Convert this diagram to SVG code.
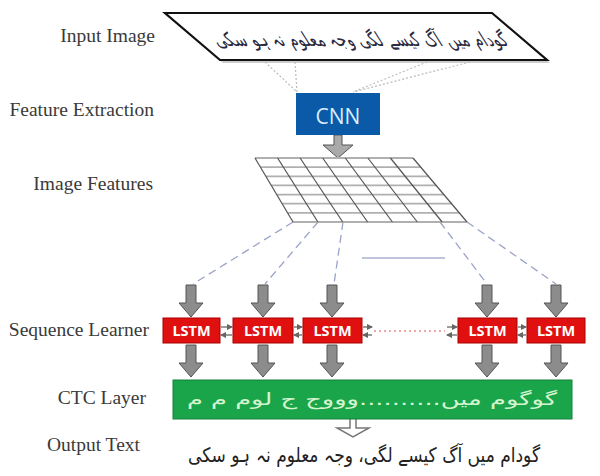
<svg xmlns="http://www.w3.org/2000/svg" xmlns:xlink="http://www.w3.org/1999/xlink" width="600" height="476" viewBox="0 0 600 476">
<style>
.lbl{font-family:"Liberation Serif","Times New Roman",serif;font-size:19.5px;fill:#3a3a3a;text-anchor:end}
.lstm rect{fill:#e01010;stroke:#a00;stroke-width:1}
.lstm text{font-family:"Open Sans","DejaVu Sans",sans-serif;font-weight:bold;font-size:14.5px;fill:#fff;text-anchor:middle}
.blk{fill:#8c8c8c;stroke:#555;stroke-width:1}
.dot{stroke:#bbb;stroke-width:1.2;stroke-dasharray:2 2;fill:none}
.dash{stroke:#9aa3c8;stroke-width:1.3;stroke-dasharray:8 5;fill:none}
.hl{stroke:#b0b0b0;stroke-width:1.8}
.vl{stroke:#555;stroke-width:1.2}
.sa{stroke:#666;stroke-width:1.3;fill:none}
.urdu{font-family:"DejaVu Sans","Noto Sans",sans-serif;direction:rtl}
</style>
<defs>
<path id="da" d="M-5,0 h10 v18 h7 l-12,14 l-12,-14 h7 z"/>
<marker id="ah" viewBox="0 0 6 6" refX="5" refY="3" markerWidth="5" markerHeight="5" orient="auto"><path d="M0,0 L6,3 L0,6 z" fill="#666"/></marker>
</defs>
<rect width="600" height="476" fill="#fff"/>

<g id="labels">
<text class="lbl" x="155" y="42">Input Image</text>
<text class="lbl" x="154" y="116">Feature Extraction</text>
<text class="lbl" x="153" y="190">Image Features</text>
<text class="lbl" x="149" y="336">Sequence Learner</text>
<text class="lbl" x="146" y="404">CTC Layer</text>
<text class="lbl" x="140" y="451">Output Text</text>
</g>

<g id="input-image">
<polygon points="168,16 495,16 550,63 223,63" fill="#ccc"/>
<polygon points="165,13 492,13 547,60 220,60" fill="#fff" stroke="#111" stroke-width="2.2"/>
<text class="urdu" transform="translate(364,46) skewX(32) scale(1,1.35)" font-size="14.5" fill="#2a2a40" text-anchor="middle">گودام میں آگ کیسے لگی وجہ معلوم نہ ہو سکی</text>
</g>

<g id="connectors">
<line class="dot" x1="265" y1="62" x2="297" y2="92"/>
<line class="dot" x1="295" y1="62" x2="297" y2="92"/>
<line class="dot" x1="427" y1="62" x2="353" y2="92"/>
<line class="dot" x1="470" y1="62" x2="353" y2="92"/>
<path d="M334,135 h8 v10 h11 l-15,13 l-15,-13 h11 z" fill="#aaa" stroke="#555" stroke-width="1"/>
<line class="dash" x1="293" y1="222" x2="193" y2="284"/>
<line class="dash" x1="318" y1="222" x2="265" y2="284"/>
<line class="dash" x1="343" y1="222" x2="334" y2="284"/>
<line class="dash" x1="440" y1="222" x2="487" y2="284"/>
<line class="dash" x1="467" y1="222" x2="556" y2="284"/>
<line x1="362" y1="258" x2="445" y2="258" stroke="#a8b0d0" stroke-width="1.5"/>
<use href="#da" class="blk" x="191" y="285"/>
<use href="#da" class="blk" x="263" y="285"/>
<use href="#da" class="blk" x="332" y="285"/>
<use href="#da" class="blk" x="487" y="285"/>
<use href="#da" class="blk" x="556" y="285"/>
<use href="#da" class="blk" x="191" y="345"/>
<use href="#da" class="blk" x="263" y="345"/>
<use href="#da" class="blk" x="332" y="345"/>
<use href="#da" class="blk" x="487" y="345"/>
<use href="#da" class="blk" x="556" y="345"/>
<line class="sa" x1="221" y1="327" x2="232" y2="327" marker-end="url(#ah)"/>
<line class="sa" x1="232" y1="335" x2="221" y2="335" marker-end="url(#ah)"/>
<line class="sa" x1="294" y1="327" x2="302" y2="327" marker-end="url(#ah)"/>
<line class="sa" x1="302" y1="335" x2="294" y2="335" marker-end="url(#ah)"/>
<line class="sa" x1="363" y1="327" x2="372" y2="327" marker-end="url(#ah)"/>
<line class="sa" x1="372" y1="335" x2="363" y2="335" marker-end="url(#ah)"/>
<line x1="374" y1="331" x2="445" y2="331" stroke="#e05050" stroke-width="1" stroke-dasharray="2 3"/>
<line class="sa" x1="447" y1="327" x2="457" y2="327" marker-end="url(#ah)"/>
<line class="sa" x1="457" y1="335" x2="447" y2="335" marker-end="url(#ah)"/>
<line class="sa" x1="518" y1="327" x2="526" y2="327" marker-end="url(#ah)"/>
<line class="sa" x1="526" y1="335" x2="518" y2="335" marker-end="url(#ah)"/>
<path d="M350,419 v9 h-13 l16,9 l16,-9 h-13 v-9" fill="#fff" stroke="#777" stroke-width="1.5"/>
</g>

<g id="cnn">
<rect x="296" y="93" width="84" height="42" fill="#0b5aa8"/>
<text x="338" y="124" font-family="'Open Sans', 'DejaVu Sans', sans-serif" font-size="21" fill="#d8ecff" text-anchor="middle">CNN</text>
</g>

<g id="image-features">
<line class="hl" x1="255" y1="158" x2="413" y2="158"/>
<line class="hl" x1="260.4" y1="167.1" x2="420.7" y2="167.1"/>
<line class="hl" x1="265.9" y1="176.3" x2="428.4" y2="176.3"/>
<line class="hl" x1="271.3" y1="185.4" x2="436.1" y2="185.4"/>
<line class="hl" x1="276.7" y1="194.6" x2="443.9" y2="194.6"/>
<line class="hl" x1="282.1" y1="203.7" x2="451.6" y2="203.7"/>
<line class="hl" x1="287.6" y1="212.9" x2="459.3" y2="212.9"/>
<line class="hl" x1="293" y1="222" x2="467" y2="222"/>
<line class="vl" x1="255" y1="158" x2="293" y2="222"/>
<line class="vl" x1="277.6" y1="158" x2="317.9" y2="222"/>
<line class="vl" x1="300.1" y1="158" x2="342.7" y2="222"/>
<line class="vl" x1="322.7" y1="158" x2="367.6" y2="222"/>
<line class="vl" x1="345.3" y1="158" x2="392.4" y2="222"/>
<line class="vl" x1="367.9" y1="158" x2="417.3" y2="222"/>
<line class="vl" x1="390.4" y1="158" x2="442.1" y2="222"/>
<line class="vl" x1="413" y1="158" x2="467" y2="222"/>
</g>

<g id="lstm1" class="lstm"><rect x="163" y="318" width="57" height="25"/><text x="191.5" y="336">LSTM</text></g>
<g id="lstm2" class="lstm"><rect x="233" y="318" width="60" height="25"/><text x="263" y="336">LSTM</text></g>
<g id="lstm3" class="lstm"><rect x="303" y="318" width="59" height="25"/><text x="332.5" y="336">LSTM</text></g>
<g id="lstm4" class="lstm"><rect x="458" y="318" width="59" height="25"/><text x="487.5" y="336">LSTM</text></g>
<g id="lstm5" class="lstm"><rect x="527" y="318" width="58" height="25"/><text x="556" y="336">LSTM</text></g>

<g id="ctc">
<rect x="173" y="380" width="399" height="39" fill="#1ba54b" stroke="#14803a" stroke-width="1"/>
<text class="urdu" x="372" y="405" font-size="17" fill="#d5f5cf" text-anchor="middle" textLength="370" lengthAdjust="spacingAndGlyphs">گوگوم میں..........وووج ج لوم م م</text>
</g>

<g id="output-text">
<text class="urdu" x="364" y="462" font-size="20" fill="#222" text-anchor="middle" textLength="352" lengthAdjust="spacingAndGlyphs">گودام میں آگ کیسے لگی، وجہ معلوم نہ ہو سکی</text>
</g>
</svg>
